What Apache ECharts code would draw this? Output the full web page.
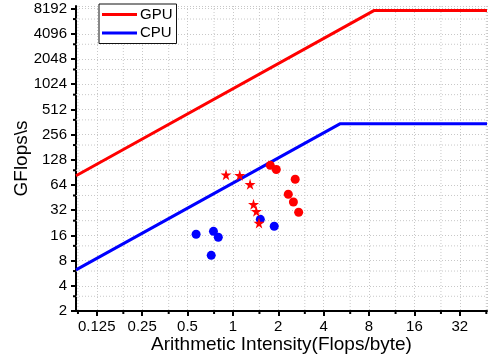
<!DOCTYPE html>
<html>
<head>
<meta charset="utf-8">
<script src="https://cdn.jsdelivr.net/npm/echarts@6/dist/echarts.min.js"></script>
<style>html,body{margin:0;padding:0;background:#fff;}#c{width:496px;height:361px;}</style>
</head>
<body>
<div id="c"></div>
<script>
// Axis ranges and ticks
const X_MIN = 0.091, X_MAX = 48.5;
const Y_MIN = 2, Y_MAX = 8800;
const xMinorTicks = [0.09375, 0.1875, 0.375, 0.75, 1.5, 3, 6, 12, 24, 48];
const yMinorTicks = [3, 6, 12, 24, 48, 96, 192, 384, 768, 1536, 3072, 6144];

// Roofline series
const gpuRoof = [[0.091, 82.5], [8.67, 7800], [48.5, 7800]];
const cpuRoof = [[0.091, 6.2], [5.16, 346], [48.5, 346]];

// Measured points
const gpuCircles = [[1.77, 110], [1.94, 98], [2.59, 75], [2.33, 49.6], [2.52, 40.1], [2.73, 30.2]];
const gpuStars = [[0.90, 85], [1.11, 83.6], [1.30, 65.3], [1.37, 37.6], [1.43, 31.0], [1.49, 22.5]];
const cpuCircles = [[1.52, 24.9], [1.88, 20.6], [0.57, 16.5], [0.743, 17.9], [0.80, 15.2], [0.718, 9.25]];

const FONT = 'Liberation Sans, Arial, sans-serif';
const STAR = 'path://M50,0 L61,35 L98,35 L68,57 L79,91 L50,70 L21,91 L32,57 L2,35 L39,35 Z';
const GRID_COLOR = '#c8c8c8';

const chart = echarts.init(document.getElementById('c'), null, {renderer: 'canvas'});

function minorX(params, api) {
  const cs = params.coordSys;
  const x = api.coord([api.value(0), api.value(1)])[0];
  const b = cs.y + cs.height;
  return {type: 'group', children: [
    {type: 'line', shape: {x1: x, y1: cs.y, x2: x, y2: b}, style: {stroke: GRID_COLOR, lineWidth: 1, lineDash: [1, 2]}},
    {type: 'line', shape: {x1: x, y1: b, x2: x, y2: b + 3}, style: {stroke: '#000', lineWidth: 2}}
  ]};
}
function minorY(params, api) {
  const cs = params.coordSys;
  const y = api.coord([api.value(0), api.value(1)])[1];
  const l = cs.x;
  return {type: 'group', children: [
    {type: 'line', shape: {x1: l, y1: y, x2: l + cs.width, y2: y}, style: {stroke: GRID_COLOR, lineWidth: 1, lineDash: [1, 2]}},
    {type: 'line', shape: {x1: l - 3, y1: y, x2: l, y2: y}, style: {stroke: '#000', lineWidth: 2}}
  ]};
}

chart.setOption({
  animation: false,
  backgroundColor: '#fff',
  textStyle: {fontFamily: FONT},
  grid: {left: 76, right: 9, top: 6, bottom: 50, containLabel: false, outerBoundsMode: 'none'},
  legend: {
    data: [{name: 'GPU', icon: 'rect'}, {name: 'CPU', icon: 'rect'}],
    orient: 'vertical',
    left: 99, top: 4,
    padding: [3, 4, 3, 3],
    itemGap: 3.5,
    itemWidth: 35, itemHeight: 3,
    backgroundColor: '#fff',
    borderColor: '#111', borderWidth: 1,
    textStyle: {fontFamily: FONT, fontSize: 15, color: '#000', padding: [0, 0, 0, -2]}
  },
  xAxis: {
    type: 'log', logBase: 2, min: X_MIN, max: X_MAX,
    name: 'Arithmetic Intensity(Flops/byte)',
    nameLocation: 'middle', nameGap: 24, nameMoveOverlap: false,
    nameTextStyle: {fontFamily: FONT, fontSize: 19, color: '#000'},
    axisLine: {show: true, lineStyle: {color: '#000', width: 2}},
    axisTick: {show: true, inside: false, length: 5, lineStyle: {color: '#000', width: 2}},
    axisLabel: {fontFamily: FONT, fontSize: 15, color: '#000', margin: 8, interval: 0,
      showMinLabel: false, showMaxLabel: false, formatter: v => String(v)},
    splitLine: {show: true, lineStyle: {color: GRID_COLOR, width: 1, type: [1, 2]}},
    minorTick: {show: false}
  },
  yAxis: {
    type: 'log', logBase: 2, min: Y_MIN, max: Y_MAX, interval: 1,
    name: 'GFlops\\s',
    nameLocation: 'middle', nameGap: 45, nameMoveOverlap: false,
    nameTextStyle: {fontFamily: FONT, fontSize: 19, color: '#000'},
    axisLine: {show: true, lineStyle: {color: '#000', width: 2}},
    axisTick: {show: true, inside: false, length: 5, lineStyle: {color: '#000', width: 2}},
    axisLabel: {fontFamily: FONT, fontSize: 15, color: '#000', margin: 9, interval: 0,
      formatter: v => String(v)},
    splitLine: {show: true, lineStyle: {color: GRID_COLOR, width: 1, type: [1, 2]}},
    minorTick: {show: false}
  },
  series: [
    {type: 'custom', name: 'xminor', z: 1, silent: true, clip: false,
      renderItem: minorX, data: xMinorTicks.map(v => [v, Y_MIN])},
    {type: 'custom', name: 'yminor', z: 1, silent: true, clip: false,
      renderItem: minorY, data: yMinorTicks.map(v => [X_MIN, v])},
    {type: 'line', name: 'GPU', data: gpuRoof, symbol: 'none', z: 3,
      color: '#ff0000', lineStyle: {color: '#ff0000', width: 3}},
    {type: 'line', name: 'CPU', data: cpuRoof, symbol: 'none', z: 3,
      color: '#0000ff', lineStyle: {color: '#0000ff', width: 3}},
    {type: 'scatter', name: 'cpuPts', data: cpuCircles, symbol: 'circle', symbolSize: 9, z: 4,
      itemStyle: {color: '#0000ff', opacity: 1}},
    {type: 'scatter', name: 'gpuPts', data: gpuCircles, symbol: 'circle', symbolSize: 9, z: 5,
      itemStyle: {color: '#ff0000', opacity: 1}},
    {type: 'scatter', name: 'gpuStars', data: gpuStars, symbol: STAR, symbolSize: 11, z: 6,
      itemStyle: {color: '#ff0000', opacity: 1}}
  ]
});
</script>
</body>
</html>
